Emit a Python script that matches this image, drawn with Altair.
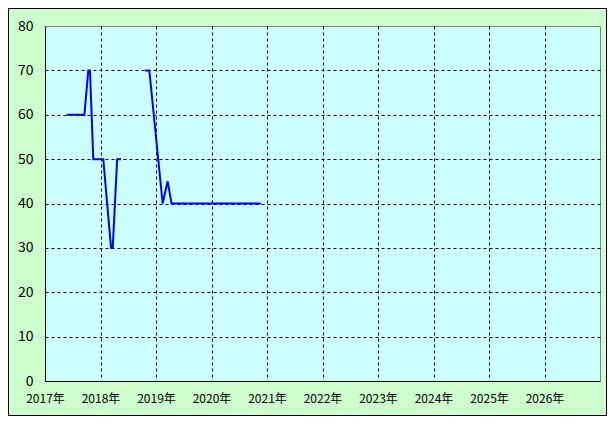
import altair as alt
import pandas as pd

# series data (fractional year, value, segment)
years = [2017.39, 2017.71, 2017.78, 2017.81, 2017.87, 2018.05, 2018.19, 2018.22, 2018.30, 2018.37,
         2018.80, 2018.88, 2019.12, 2019.21, 2019.28, 2020.89]
values = [60, 60, 70, 70, 50, 50, 30, 30, 50, 50,
          70, 70, 40, 45, 40, 40]
segments = [1]*10 + [2]*6
x_ticks = list(range(2017, 2027))
y_ticks = list(range(0, 90, 10))

df = pd.DataFrame({"year": years, "value": values, "seg": segments})

W, H = 555, 355
PL, PT, PR, PB = 37, 18, 7, 35
FONT = "Noto Sans CJK JP"

line = alt.Chart(df).mark_line(color="#0000ff", strokeWidth=2).encode(
    x=alt.X("year:Q", scale=alt.Scale(domain=[2017, 2027], nice=False, zero=False),
            axis=alt.Axis(values=x_ticks, labelExpr="datum.value + '年'", title=None,
                          ticks=False, labelPadding=12, labelFontSize=12, labelFont=FONT,
                          labelColor="black", domainColor="black", labelFlush=False,
                          grid=True, gridColor="black", gridDash=[3, 3],
                          gridOpacity=alt.condition("datum.value <= 2017", alt.value(0), alt.value(1)))),
    y=alt.Y("value:Q", scale=alt.Scale(domain=[0, 80], nice=False),
            axis=alt.Axis(values=y_ticks, title=None, ticks=False, labelPadding=12,
                          labelFontSize=14, labelFont=FONT, labelColor="black",
                          domainColor="black", grid=True, gridColor="black", gridDash=[3, 3],
                          gridOpacity=alt.condition("datum.value >= 80 || datum.value <= 0", alt.value(0), alt.value(1)))),
    detail="seg:N",
)

border = alt.Chart(pd.DataFrame({"a": [0]})).mark_rect(
    fill=None, stroke="black", strokeWidth=1
).encode(
    x=alt.value(-PL + 0.5), x2=alt.value(W + PR - 0.5),
    y=alt.value(-PT + 0.5), y2=alt.value(H + PB - 0.5),
)

chart = alt.layer(border, line).properties(
    width=W, height=H,
    background="#ccffcc",
    padding={"left": PL, "top": PT, "right": PR, "bottom": PB},
    autosize=alt.AutoSizeParams(type="none"),
).configure_view(fill="#ccffff", stroke="#808080", strokeWidth=1)

chart.save("out.html", embed_options={"renderer": "svg", "actions": False})
